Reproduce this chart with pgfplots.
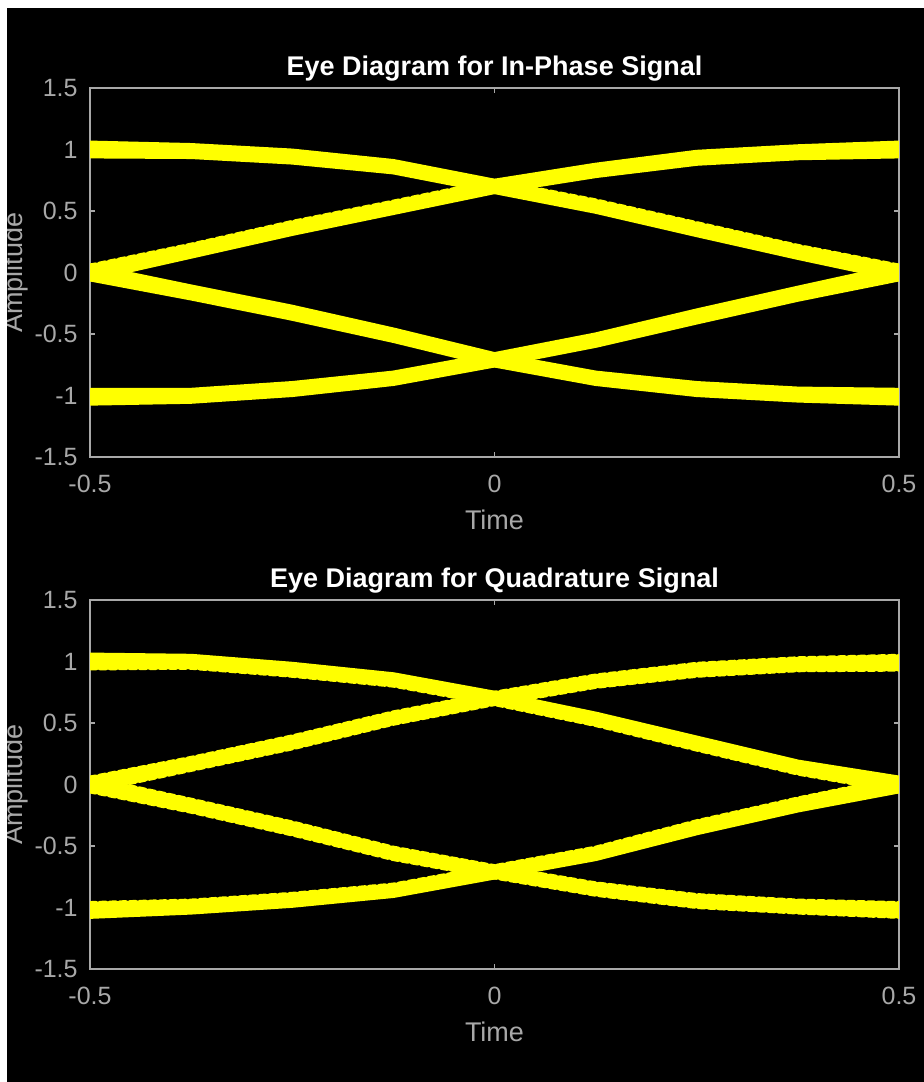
\documentclass[border=0pt]{standalone}
\usepackage{fontspec}
\setmainfont{Liberation Sans}
\usepackage{pgfplots}
\pgfplotsset{compat=1.18}
\definecolor{axgray}{HTML}{A8A8A8}
\definecolor{ylw}{HTML}{FFFF00}
\pgfplotsset{
  eyeaxis/.style={
    scale only axis, width=404.5pt, height=184.5pt,
    xmin=-0.5, xmax=0.5, ymin=-1.5, ymax=1.5,
    xtick={-0.5,0,0.5}, xticklabels={-0.5,0,0.5},
    ytick={-1.5,-1,-0.5,0,0.5,1,1.5}, yticklabels={-1.5,-1,-0.5,0,0.5,1,1.5},
    axis background/.style={fill=black},
    axis line style={axgray, line width=0.75pt},
    tick style={axgray, line width=0.75pt},
    major tick length=2.5pt,
    tick align=inside,
    every axis title shift=0pt,
    xticklabel style={font=\fontsize{12.5}{14}\selectfont, text=axgray, anchor=base, yshift=-18pt},
    yticklabel style={font=\fontsize{12.5}{14}\selectfont, text=axgray, anchor=east, inner sep=0pt, xshift=-6pt},
    xlabel style={font=\fontsize{13.5}{15}\selectfont, text=axgray, at={([yshift=-36.5pt]axis description cs:0.5,0)}, anchor=base},
    ylabel style={font=\fontsize{13.5}{15}\selectfont, text=axgray, at={([xshift=-33.5pt]axis description cs:0,0.5)}, anchor=base},
    title style={font=\fontsize{13.5}{15}\selectfont\bfseries, text=white, at={([yshift=6pt]axis description cs:0.5,1)}, anchor=base},
    no markers,
    every axis plot post/.append style={draw=ylw, line width=4pt, line join=round, line cap=round, mark=none},
  }
}
\begin{document}
\begin{tikzpicture}
\fill[black] (0,0) rectangle (462pt,541pt);
\useasboundingbox (0,0) rectangle (462pt,541pt);
\begin{axis}[eyeaxis, at={(45pt,312.5pt)}, anchor=south west,
  title={Eye Diagram for In-Phase Signal}, xlabel={Time}, ylabel={Amplitude}]
\addplot coordinates {(-0.5,1.04)(-0.375,1.02)(-0.25,0.975)(-0.125,0.89)(0,0.73)(0.125,0.86)(0.25,0.965)(0.375,1.01)(0.5,1.04)};
\addplot coordinates {(-0.5,1.00)(-0.375,0.995)(-0.25,0.935)(-0.125,0.86)(0,0.70)(0.125,0.825)(0.25,0.935)(0.375,0.98)(0.5,1.00)};
\addplot coordinates {(-0.5,0.96)(-0.375,0.955)(-0.25,0.91)(-0.125,0.83)(0,0.67)(0.125,0.80)(0.25,0.90)(0.375,0.945)(0.5,0.96)};
\addplot coordinates {(-0.5,1.02)(-0.375,1.005)(-0.25,0.96)(-0.125,0.875)(0,0.715)(0.125,0.56)(0.25,0.365)(0.375,0.19)(0.5,0.02)};
\addplot coordinates {(-0.5,0.98)(-0.375,0.97)(-0.25,0.925)(-0.125,0.84)(0,0.685)(0.125,0.525)(0.25,0.33)(0.375,0.155)(0.5,-0.02)};
\addplot coordinates {(-0.5,1.01)(-0.375,0.98)(-0.25,0.965)(-0.125,0.84)(0,0.71)(0.125,0.52)(0.25,0.375)(0.375,0.16)(0.5,0.01)};
\addplot coordinates {(-0.5,0.02)(-0.375,0.195)(-0.25,0.38)(-0.125,0.545)(0,0.715)(0.125,0.85)(0.25,0.945)(0.375,1.00)(0.5,1.02)};
\addplot coordinates {(-0.5,-0.02)(-0.375,0.16)(-0.25,0.345)(-0.125,0.51)(0,0.685)(0.125,0.815)(0.25,0.91)(0.375,0.965)(0.5,0.98)};
\addplot coordinates {(-0.5,0.01)(-0.375,0.17)(-0.25,0.385)(-0.125,0.51)(0,0.71)(0.125,0.81)(0.25,0.955)(0.375,0.97)(0.5,1.01)};
\addplot coordinates {(-0.5,0.04)(-0.375,0.21)(-0.25,0.395)(-0.125,0.56)(0,0.73)(0.125,0.57)(0.25,0.385)(0.375,0.20)(0.5,0.04)};
\addplot coordinates {(-0.5,0.00)(-0.375,0.185)(-0.25,0.355)(-0.125,0.53)(0,0.70)(0.125,0.535)(0.25,0.355)(0.375,0.17)(0.5,0.00)};
\addplot coordinates {(-0.5,-0.04)(-0.375,0.145)(-0.25,0.33)(-0.125,0.50)(0,0.67)(0.125,0.51)(0.25,0.32)(0.375,0.135)(0.5,-0.04)};
\addplot coordinates {(-0.5,0.04)(-0.375,-0.13)(-0.25,-0.295)(-0.125,-0.48)(0,-0.68)(0.125,-0.52)(0.25,-0.325)(0.375,-0.14)(0.5,0.04)};
\addplot coordinates {(-0.5,0.00)(-0.375,-0.155)(-0.25,-0.335)(-0.125,-0.51)(0,-0.71)(0.125,-0.555)(0.25,-0.355)(0.375,-0.17)(0.5,0.00)};
\addplot coordinates {(-0.5,-0.04)(-0.375,-0.195)(-0.25,-0.36)(-0.125,-0.54)(0,-0.74)(0.125,-0.58)(0.25,-0.39)(0.375,-0.205)(0.5,-0.04)};
\addplot coordinates {(-0.5,0.02)(-0.375,-0.145)(-0.25,-0.31)(-0.125,-0.495)(0,-0.695)(0.125,-0.84)(0.25,-0.935)(0.375,-0.97)(0.5,-0.99)};
\addplot coordinates {(-0.5,-0.02)(-0.375,-0.18)(-0.25,-0.345)(-0.125,-0.53)(0,-0.725)(0.125,-0.875)(0.25,-0.97)(0.375,-1.005)(0.5,-1.03)};
\addplot coordinates {(-0.5,0.01)(-0.375,-0.17)(-0.25,-0.305)(-0.125,-0.53)(0,-0.70)(0.125,-0.88)(0.25,-0.925)(0.375,-1.00)(0.5,-1.00)};
\addplot coordinates {(-0.5,-0.99)(-0.375,-0.985)(-0.25,-0.93)(-0.125,-0.845)(0,-0.695)(0.125,-0.53)(0.25,-0.345)(0.375,-0.15)(0.5,0.02)};
\addplot coordinates {(-0.5,-1.03)(-0.375,-1.02)(-0.25,-0.965)(-0.125,-0.88)(0,-0.725)(0.125,-0.565)(0.25,-0.38)(0.375,-0.185)(0.5,-0.02)};
\addplot coordinates {(-0.5,-1.00)(-0.375,-1.01)(-0.25,-0.925)(-0.125,-0.88)(0,-0.70)(0.125,-0.57)(0.25,-0.335)(0.375,-0.18)(0.5,0.01)};
\addplot coordinates {(-0.5,-0.97)(-0.375,-0.97)(-0.25,-0.915)(-0.125,-0.83)(0,-0.68)(0.125,-0.83)(0.25,-0.915)(0.375,-0.96)(0.5,-0.97)};
\addplot coordinates {(-0.5,-1.01)(-0.375,-0.995)(-0.25,-0.955)(-0.125,-0.86)(0,-0.71)(0.125,-0.865)(0.25,-0.945)(0.375,-0.99)(0.5,-1.01)};
\addplot coordinates {(-0.5,-1.05)(-0.375,-1.035)(-0.25,-0.98)(-0.125,-0.89)(0,-0.74)(0.125,-0.89)(0.25,-0.98)(0.375,-1.025)(0.5,-1.05)};
\end{axis}
\begin{axis}[eyeaxis, at={(45pt,56.5pt)}, anchor=south west,
  title={Eye Diagram for Quadrature Signal}, xlabel={Time}, ylabel={Amplitude}]
\addplot coordinates {(-0.5,1.02)(-0.375,1.015)(-0.25,0.95)(-0.125,0.865)(0,0.715)(0.125,0.86)(0.25,0.945)(0.375,1.00)(0.5,1.01)};
\addplot coordinates {(-0.5,0.98)(-0.375,0.98)(-0.25,0.915)(-0.125,0.83)(0,0.685)(0.125,0.825)(0.25,0.91)(0.375,0.965)(0.5,0.97)};
\addplot coordinates {(-0.5,1.01)(-0.375,0.99)(-0.25,0.955)(-0.125,0.83)(0,0.71)(0.125,0.82)(0.25,0.955)(0.375,0.97)(0.5,1.00)};
\addplot coordinates {(-0.5,1.04)(-0.375,1.03)(-0.25,0.965)(-0.125,0.88)(0,0.73)(0.125,0.56)(0.25,0.365)(0.375,0.17)(0.5,0.04)};
\addplot coordinates {(-0.5,1.00)(-0.375,1.005)(-0.25,0.925)(-0.125,0.85)(0,0.70)(0.125,0.525)(0.25,0.335)(0.375,0.14)(0.5,0.00)};
\addplot coordinates {(-0.5,0.96)(-0.375,0.965)(-0.25,0.90)(-0.125,0.82)(0,0.67)(0.125,0.50)(0.25,0.30)(0.375,0.105)(0.5,-0.04)};
\addplot coordinates {(-0.5,0.04)(-0.375,0.20)(-0.25,0.375)(-0.125,0.57)(0,0.73)(0.125,0.87)(0.25,0.965)(0.375,1.01)(0.5,1.03)};
\addplot coordinates {(-0.5,0.00)(-0.375,0.175)(-0.25,0.335)(-0.125,0.54)(0,0.70)(0.125,0.835)(0.25,0.935)(0.375,0.98)(0.5,0.99)};
\addplot coordinates {(-0.5,-0.04)(-0.375,0.135)(-0.25,0.31)(-0.125,0.51)(0,0.67)(0.125,0.81)(0.25,0.90)(0.375,0.945)(0.5,0.95)};
\addplot coordinates {(-0.5,0.02)(-0.375,0.185)(-0.25,0.36)(-0.125,0.555)(0,0.715)(0.125,0.55)(0.25,0.345)(0.375,0.16)(0.5,0.02)};
\addplot coordinates {(-0.5,-0.02)(-0.375,0.15)(-0.25,0.325)(-0.125,0.52)(0,0.685)(0.125,0.515)(0.25,0.31)(0.375,0.125)(0.5,-0.02)};
\addplot coordinates {(-0.5,0.01)(-0.375,0.16)(-0.25,0.365)(-0.125,0.52)(0,0.71)(0.125,0.51)(0.25,0.355)(0.375,0.13)(0.5,0.01)};
\addplot coordinates {(-0.5,0.02)(-0.375,-0.155)(-0.25,-0.34)(-0.125,-0.545)(0,-0.695)(0.125,-0.54)(0.25,-0.335)(0.375,-0.14)(0.5,0.02)};
\addplot coordinates {(-0.5,-0.02)(-0.375,-0.19)(-0.25,-0.375)(-0.125,-0.58)(0,-0.725)(0.125,-0.575)(0.25,-0.37)(0.375,-0.175)(0.5,-0.02)};
\addplot coordinates {(-0.5,0.01)(-0.375,-0.18)(-0.25,-0.335)(-0.125,-0.58)(0,-0.70)(0.125,-0.58)(0.25,-0.325)(0.375,-0.17)(0.5,0.01)};
\addplot coordinates {(-0.5,0.04)(-0.375,-0.14)(-0.25,-0.325)(-0.125,-0.53)(0,-0.68)(0.125,-0.82)(0.25,-0.915)(0.375,-0.96)(0.5,-0.98)};
\addplot coordinates {(-0.5,0.00)(-0.375,-0.165)(-0.25,-0.365)(-0.125,-0.56)(0,-0.71)(0.125,-0.855)(0.25,-0.945)(0.375,-0.99)(0.5,-1.02)};
\addplot coordinates {(-0.5,-0.04)(-0.375,-0.205)(-0.25,-0.39)(-0.125,-0.59)(0,-0.74)(0.125,-0.88)(0.25,-0.98)(0.375,-1.025)(0.5,-1.06)};
\addplot coordinates {(-0.5,-0.98)(-0.375,-0.96)(-0.25,-0.905)(-0.125,-0.83)(0,-0.68)(0.125,-0.53)(0.25,-0.315)(0.375,-0.13)(0.5,0.04)};
\addplot coordinates {(-0.5,-1.02)(-0.375,-0.985)(-0.25,-0.945)(-0.125,-0.86)(0,-0.71)(0.125,-0.565)(0.25,-0.345)(0.375,-0.16)(0.5,0.00)};
\addplot coordinates {(-0.5,-1.06)(-0.375,-1.025)(-0.25,-0.97)(-0.125,-0.89)(0,-0.74)(0.125,-0.59)(0.25,-0.38)(0.375,-0.195)(0.5,-0.04)};
\addplot coordinates {(-0.5,-1.00)(-0.375,-0.975)(-0.25,-0.92)(-0.125,-0.845)(0,-0.695)(0.125,-0.83)(0.25,-0.935)(0.375,-0.97)(0.5,-1.00)};
\addplot coordinates {(-0.5,-1.04)(-0.375,-1.01)(-0.25,-0.955)(-0.125,-0.88)(0,-0.725)(0.125,-0.865)(0.25,-0.97)(0.375,-1.005)(0.5,-1.04)};
\addplot coordinates {(-0.5,-1.01)(-0.375,-1.00)(-0.25,-0.915)(-0.125,-0.88)(0,-0.70)(0.125,-0.87)(0.25,-0.925)(0.375,-1.00)(0.5,-1.01)};
\end{axis}
\fill[white] (0,0) rectangle (3.5pt,541pt);
\fill[white] (0,537pt) rectangle (462pt,541pt);
\end{tikzpicture}
\end{document}
